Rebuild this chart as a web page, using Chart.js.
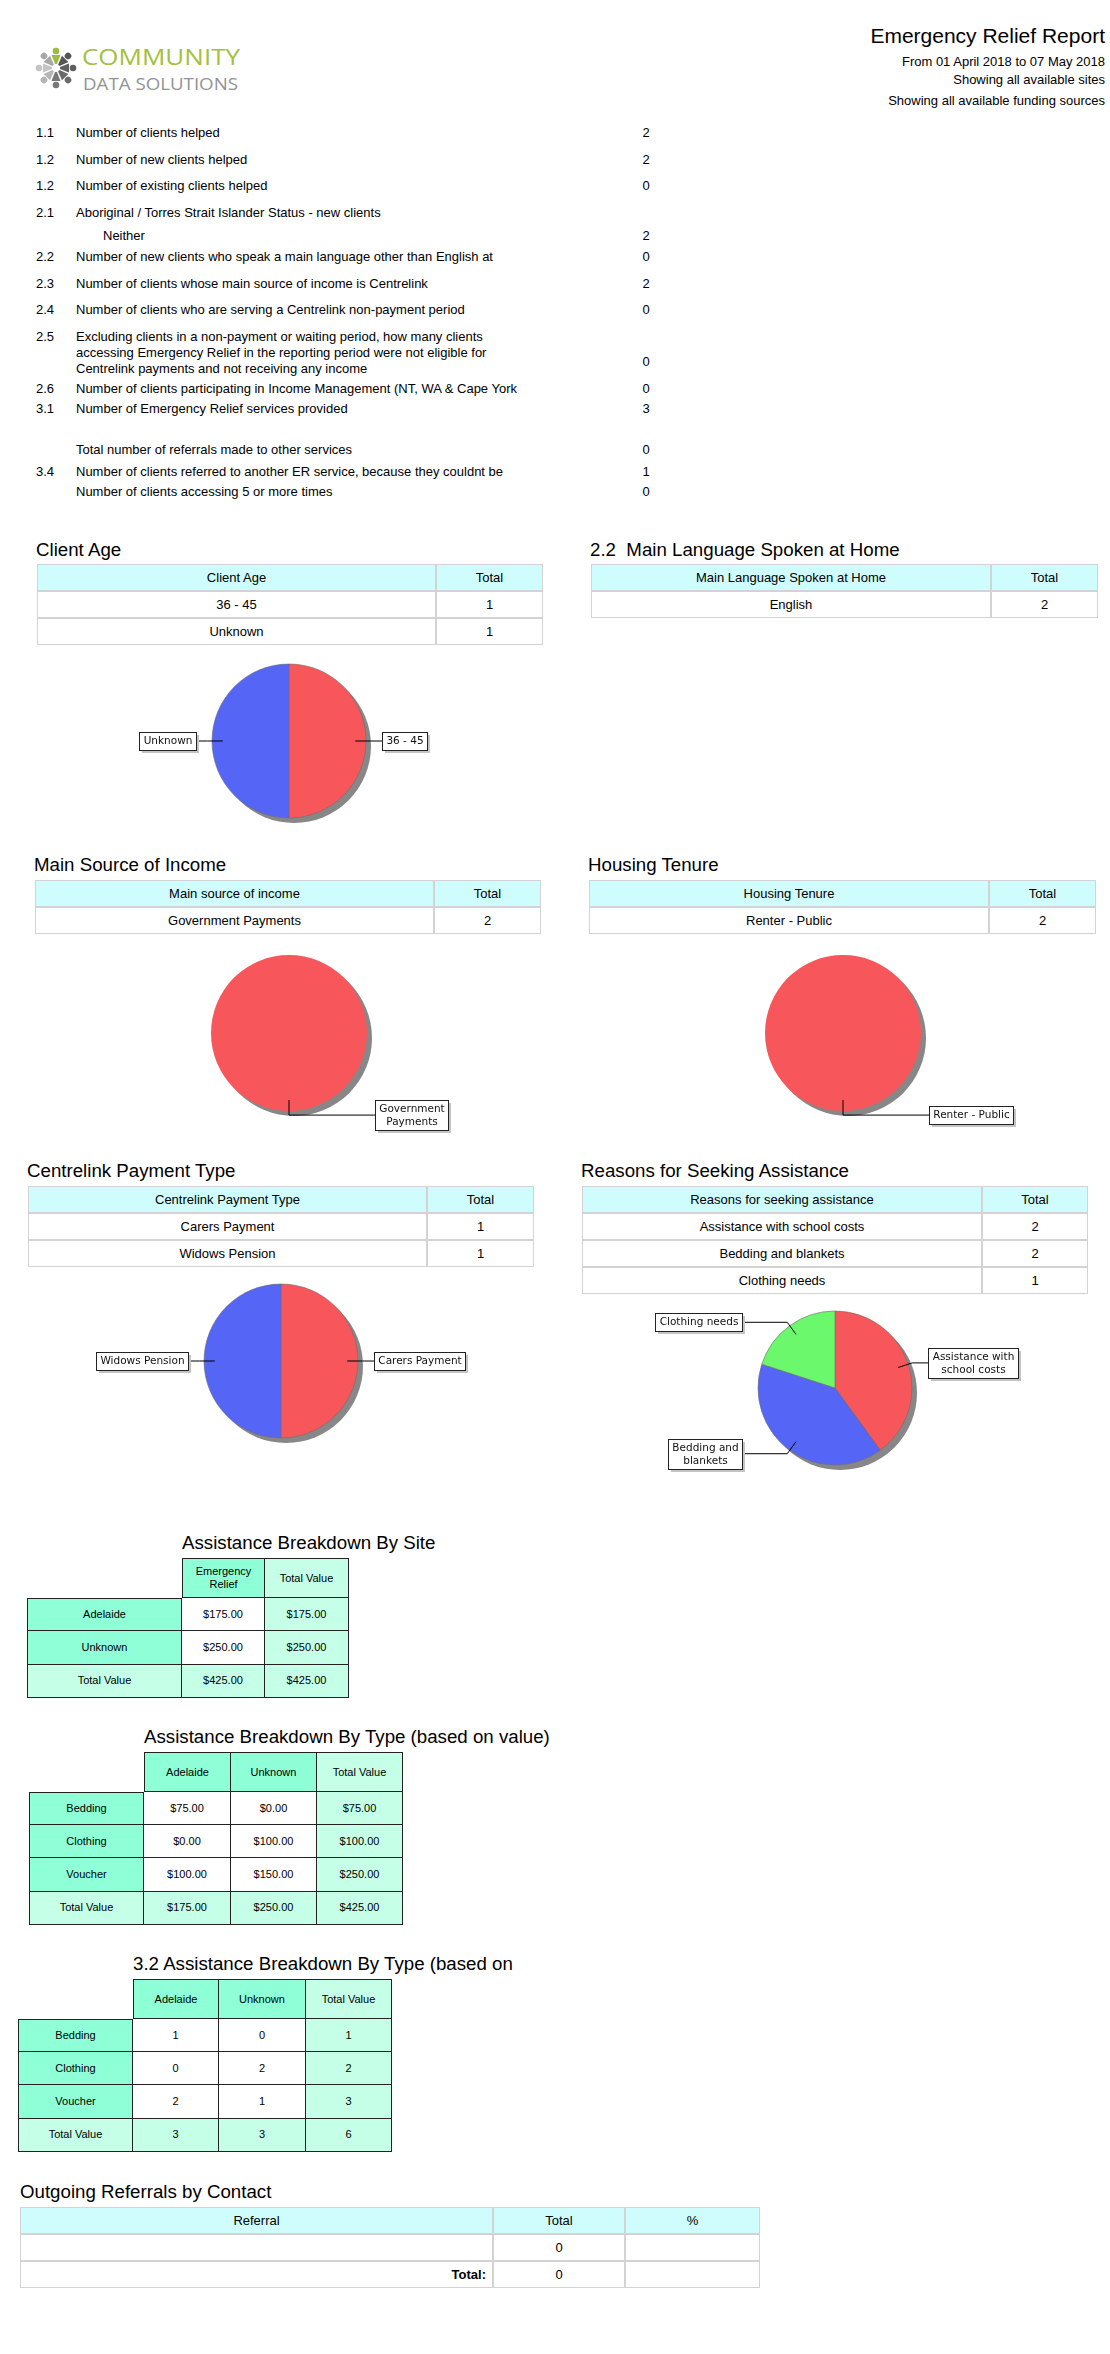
<!DOCTYPE html>
<html>
<head>
<meta charset="utf-8">
<title>Emergency Relief Report</title>
<script src="https://cdn.jsdelivr.net/npm/chart.js@4.4.1/dist/chart.umd.min.js"></script>
<style>
  body { margin: 0; background: #fff; font-family: "Liberation Sans", Arial, sans-serif; color: #000; }
  #page { position: relative; width: 1110px; height: 2354px; overflow: hidden; }
  .abs { position: absolute; white-space: nowrap; }
  .h1 { font-size: 21px; right: 5px; text-align: right; line-height: 24px; }
  .sub { font-size: 13px; right: 5px; text-align: right; line-height: 16px; }
  .stat { font-size: 13px; line-height: 16px; }
  .title { font-size: 18.7px; line-height: 22px; }
  .cell { position: absolute; box-sizing: border-box; text-align: center; overflow: hidden; }
  .cyan { border: 1px solid #d3d3d3; font-size: 13px; }
  .dark { border-right: 1px solid #222; border-bottom: 1px solid #222; font-size: 11px;
          display: flex; align-items: center; justify-content: center; line-height: 13px; }
  canvas { position: absolute; }
</style>
</head>
<body>
<div id="page"></div>

<script>
// ---------- data ----------
const statCodes = ['1.1', '1.2', '1.2', '2.1', '', '2.2', '2.3', '2.4', '2.5', '2.6', '3.1', '', '3.4', ''];
const statLabels = [
  'Number of clients helped',
  'Number of new clients helped',
  'Number of existing clients helped',
  'Aboriginal / Torres Strait Islander Status - new clients',
  'Neither',
  'Number of new clients who speak a main language other than English at',
  'Number of clients whose main source of income is Centrelink',
  'Number of clients who are serving a Centrelink non-payment period',
  'Excluding clients in a non-payment or waiting period, how many clients\naccessing Emergency Relief in the reporting period were not eligible for\nCentrelink payments and not receiving any income',
  'Number of clients participating in Income Management (NT, WA & Cape York',
  'Number of Emergency Relief services provided',
  'Total number of referrals made to other services',
  'Number of clients referred to another ER service, because they couldnt be',
  'Number of clients accessing 5 or more times'
];
const statValues = ['2', '2', '0', '', '2', '0', '2', '0', '0', '0', '3', '0', '1', '0'];

const ageLabels = ['36 - 45', 'Unknown'];
const ageTotals = [1, 1];
const languageLabels = ['English'];
const languageTotals = [2];
const incomeLabels = ['Government Payments'];
const incomeTotals = [2];
const housingLabels = ['Renter - Public'];
const housingTotals = [2];
const paymentLabels = ['Carers Payment', 'Widows Pension'];
const paymentTotals = [1, 1];
const reasonLabels = ['Assistance with school costs', 'Bedding and blankets', 'Clothing needs'];
const reasonTotals = [2, 2, 1];

const sites = ['Adelaide', 'Unknown'];
const siteEmergencyRelief = [175, 250];
const assistTypes = ['Bedding', 'Clothing', 'Voucher'];
const valueAdelaide = [75, 0, 100];
const valueUnknown = [0, 100, 150];
const countAdelaide = [1, 0, 2];
const countUnknown = [0, 2, 1];

const referralNames = [''];
const referralTotals = [0];

// ---------- layout ----------
const page = document.getElementById('page');
const statRowY = [133, 160, 186, 213, 236, 257, 284, 310, 337, 389, 409, 450, 472, 492];
const pieColors = ['#f7575b', '#5565f6', '#6cf86c'];

function add(html) {
  page.insertAdjacentHTML('beforeend', html);
}

function esc(s) {
  return String(s).replace(/&/g, '&amp;').replace(/</g, '&lt;');
}

// header
add(`<div class="abs h1" style="top:24px">Emergency Relief Report</div>`);
add(`<div class="abs sub" style="top:54px">From 01 April 2018 to 07 May 2018</div>`);
add(`<div class="abs sub" style="top:72px">Showing all available sites</div>`);
add(`<div class="abs sub" style="top:93px">Showing all available funding sources</div>`);

// logo
(function logo() {
  const cols = ['#9dbb3d', '#555', '#5f5f5f', '#6a6a6a', '#777', '#b5b5b5', '#c4c4c4', '#a8a8a8'];
  let figs = '';
  for (let k = 0; k < 8; k++) {
    const a = k * 45;
    figs += `<g transform="rotate(${a})" fill="${cols[k]}">
      <circle cx="0" cy="-17" r="3.3"/>
      <path d="M-4.5,-13 L4.5,-13 L1,-4 L-1,-4 Z"/>
    </g>`;
  }
  add(`<svg class="abs" style="left:30px;top:40px" width="220" height="56">
    <g transform="translate(26,28)">${figs}</g>
    <text x="52" y="25" font-family="Open Sans, sans-serif" font-size="22" fill="#a3c041"
      textLength="158" lengthAdjust="spacingAndGlyphs">COMMUNITY</text>
    <text x="53" y="50" font-family="Open Sans, sans-serif" font-size="17" fill="#939393"
      textLength="155" lengthAdjust="spacingAndGlyphs">DATA SOLUTIONS</text>
  </svg>`);
})();

// stats list
statLabels.forEach((label, i) => {
  const y = statRowY[i];
  const lines = label.split('\n');
  const indent = statCodes[i] === '' && i === 4 ? 103 : 76;
  if (statCodes[i]) add(`<div class="abs stat" style="left:36px;top:${y - 8}px">${statCodes[i]}</div>`);
  add(`<div class="abs stat" style="left:${indent}px;top:${y - 8}px">${lines.map(esc).join('<br>')}</div>`);
  const vy = y + (lines.length - 1) * 12.5;
  if (statValues[i] !== '') {
    add(`<div class="abs stat" style="left:626px;width:40px;text-align:center;top:${vy - 8}px">${statValues[i]}</div>`);
  }
});

// cyan header tables
function cyanTable(left, top, widths, rowH, header, rows, opts = {}) {
  const total = widths.reduce((a, b) => a + b, 0);
  let html = `<div class="abs" style="left:${left}px;top:${top}px;width:${total}px;height:${rowH * (rows.length + 1)}px;">`;
  [header, ...rows].forEach((row, r) => {
    let x = 0;
    row.forEach((txt, c) => {
      const bg = r === 0 ? '#cffdfd' : '#fff';
      let align = 'center', extra = '';
      if (opts.boldRight && r === rows.length && c === 0) {
        align = 'right'; extra = 'font-weight:bold;padding-right:6px;';
      }
      html += `<div class="cell cyan" style="left:${x}px;top:${r * rowH}px;width:${widths[c]}px;height:${rowH}px;line-height:${rowH - 2}px;background:${bg};text-align:${align};${extra}">${esc(txt)}</div>`;
      x += widths[c];
    });
  });
  add(html + '</div>');
}

function title(left, cy, text) {
  add(`<div class="abs title" style="left:${left}px;top:${cy - 11}px">${text}</div>`);
}

title(36, 550, 'Client Age');
cyanTable(37, 564, [399, 107], 27, ['Client Age', 'Total'], ageLabels.map((l, i) => [l, ageTotals[i]]));

title(590, 550, '2.2&nbsp;&nbsp;Main Language Spoken at Home');
cyanTable(591, 564, [400, 107], 27, ['Main Language Spoken at Home', 'Total'], languageLabels.map((l, i) => [l, languageTotals[i]]));

title(34, 865, 'Main Source of Income');
cyanTable(35, 880, [399, 107], 27, ['Main source of income', 'Total'], incomeLabels.map((l, i) => [l, incomeTotals[i]]));

title(588, 865, 'Housing Tenure');
cyanTable(589, 880, [400, 107], 27, ['Housing Tenure', 'Total'], housingLabels.map((l, i) => [l, housingTotals[i]]));

title(27, 1171, 'Centrelink Payment Type');
cyanTable(28, 1186, [399, 107], 27, ['Centrelink Payment Type', 'Total'], paymentLabels.map((l, i) => [l, paymentTotals[i]]));

title(581, 1171, 'Reasons for Seeking Assistance');
cyanTable(582, 1186, [400, 106], 27, ['Reasons for seeking assistance', 'Total'], reasonLabels.map((l, i) => [l, reasonTotals[i]]));

// dark bordered breakdown tables
const AQUA = '#8effd6', MINT = '#c5ffe8';

function darkTable(left, top, labelW, colW, headH, rowH, header, headerBg, rows) {
  // rows: [label, labelBg, [cells], [cellBgs]]
  const totalW = labelW + colW.reduce((a, b) => a + b, 0);
  let html = `<div class="abs" style="left:${left}px;top:${top}px;width:${totalW}px;">`;
  let x = labelW;
  header.forEach((h, c) => {
    const lft = c === 0 ? 'border-left:1px solid #222;' : '';
    html += `<div class="cell dark" style="left:${x}px;top:0;width:${colW[c]}px;height:${headH}px;background:${headerBg[c]};border-top:1px solid #222;${lft}white-space:normal;padding:0 8px;">${esc(h)}</div>`;
    x += colW[c];
  });
  let y = headH;
  rows.forEach((row, r) => {
    html += `<div class="cell dark" style="left:0;top:${y}px;width:${labelW}px;height:${rowH}px;background:${row[1]};border-left:1px solid #222;${r === 0 ? 'border-top:1px solid #222;' : ''}">${esc(row[0])}</div>`;
    let cx = labelW;
    row[2].forEach((v, c) => {
      html += `<div class="cell dark" style="left:${cx}px;top:${y}px;width:${colW[c]}px;height:${rowH}px;background:${row[3][c]};">${esc(v)}</div>`;
      cx += colW[c];
    });
    y += rowH;
  });
  add(html + '</div>');
}

const money = v => '$' + v.toFixed(2);
const sum = arr => arr.reduce((a, b) => a + b, 0);

title(182, 1543, 'Assistance Breakdown By Site');
darkTable(27, 1558, 155, [83, 84], 40, 33.3, ['Emergency Relief', 'Total Value'], [AQUA, MINT], [
  ...sites.map((s, i) => [s, AQUA, [money(siteEmergencyRelief[i]), money(siteEmergencyRelief[i])], ['#fff', MINT]]),
  ['Total Value', MINT, [money(sum(siteEmergencyRelief)), money(sum(siteEmergencyRelief))], [MINT, MINT]]
]);

title(144, 1737, 'Assistance Breakdown By Type (based on value)');
darkTable(29, 1752, 115, [87, 86, 86], 40, 33.2, sites.concat(['Total Value']), [AQUA, AQUA, MINT], [
  ...assistTypes.map((t, i) => [t, AQUA,
    [money(valueAdelaide[i]), money(valueUnknown[i]), money(valueAdelaide[i] + valueUnknown[i])], ['#fff', '#fff', MINT]]),
  ['Total Value', MINT, [money(sum(valueAdelaide)), money(sum(valueUnknown)), money(sum(valueAdelaide) + sum(valueUnknown))], [MINT, MINT, MINT]]
]);

title(133, 1964, '3.2 Assistance Breakdown By Type (based on');
darkTable(18, 1979, 115, [86, 87, 86], 40, 33.2, sites.concat(['Total Value']), [AQUA, AQUA, MINT], [
  ...assistTypes.map((t, i) => [t, AQUA,
    [countAdelaide[i], countUnknown[i], countAdelaide[i] + countUnknown[i]], ['#fff', '#fff', MINT]]),
  ['Total Value', MINT, [sum(countAdelaide), sum(countUnknown), sum(countAdelaide) + sum(countUnknown)], [MINT, MINT, MINT]]
]);

title(20, 2192, 'Outgoing Referrals by Contact');
cyanTable(20, 2207, [473, 132, 135], 27, ['Referral', 'Total', '%'], [
  ...referralNames.map((n, i) => [n, referralTotals[i], '']),
  ['Total:', sum(referralTotals), '']
], { boldRight: true });

// ---------- pie charts ----------
const pieShadow = {
  id: 'pieShadow',
  beforeDatasetsDraw(chart) {
    const arc = chart.getDatasetMeta(0).data[0];
    if (!arc) return;
    const { x, y, outerRadius } = arc.getProps(['x', 'y', 'outerRadius'], true);
    const ctx = chart.ctx;
    ctx.save();
    ctx.fillStyle = '#878787';
    ctx.beginPath();
    ctx.arc(x + 5, y + 5, outerRadius, 0, Math.PI * 2);
    ctx.fill();
    ctx.restore();
  }
};

function wrapLabel(text, max) {
  const words = text.split(' ');
  const lines = [];
  let cur = '';
  words.forEach(w => {
    const next = cur ? cur + ' ' + w : w;
    if (next.length > max && cur) { lines.push(cur); cur = w; }
    else cur = next;
  });
  if (cur) lines.push(cur);
  return lines;
}

const pieCallouts = {
  id: 'pieCallouts',
  afterDatasetsDraw(chart) {
    const ctx = chart.ctx;
    const meta = chart.getDatasetMeta(0);
    const labels = chart.data.labels;
    ctx.save();
    ctx.font = '10.5px "DejaVu Sans"';
    ctx.textAlign = 'center';
    ctx.textBaseline = 'middle';
    meta.data.forEach((arc, i) => {
      const { x, y, startAngle, endAngle, outerRadius: r } =
        arc.getProps(['x', 'y', 'startAngle', 'endAngle', 'outerRadius'], true);
      const mid = (startAngle + endAngle) / 2;
      const c = Math.cos(mid), s = Math.sin(mid);
      const ax = x + c * r * 0.86, ay = y + s * r * 0.86;
      const ex = ax + c * 15, ey = ay + s * 15;
      const side = c < -0.01 ? -1 : 1;
      const edge = Math.abs(c) < 0.1 ? x + side * (r + 8) : x + side * (r + 16);

      ctx.strokeStyle = '#000';
      ctx.lineWidth = 1;
      ctx.beginPath();
      ctx.moveTo(ax, ay);
      ctx.lineTo(ex, ey);
      ctx.lineTo(edge, ey);
      ctx.stroke();

      const lines = wrapLabel(labels[i], 15);
      const tw = Math.max(...lines.map(l => ctx.measureText(l).width));
      const w = Math.round(tw + 8), h = Math.round(lines.length * 12.5 + 5);
      const bx = Math.round(side > 0 ? edge : edge - w);
      const by = Math.round(ey - h / 2);
      ctx.fillStyle = '#c4c4c4';
      ctx.fillRect(bx + 3, by + 3, w, h);
      ctx.fillStyle = '#fff';
      ctx.fillRect(bx, by, w, h);
      ctx.strokeStyle = '#222';
      ctx.strokeRect(bx + 0.5, by + 0.5, w, h);
      ctx.fillStyle = '#111';
      lines.forEach((l, k) => {
        ctx.fillText(l, bx + w / 2 + 0.5, by + 3 + 12.5 * k + 6.5);
      });
    });
    ctx.restore();
  }
};

function makePie(cx, cy, radius, labels, values) {
  const canvas = document.createElement('canvas');
  canvas.width = 440;
  canvas.height = 240;
  canvas.style.left = (cx - 220) + 'px';
  canvas.style.top = (cy - 120) + 'px';
  page.appendChild(canvas);

  new Chart(canvas.getContext('2d'), {
    type: 'pie',
    data: {
      labels: labels,
      datasets: [{
        data: values,
        backgroundColor: pieColors.slice(0, values.length),
        borderColor: 'rgba(110,110,110,0.6)',
        borderWidth: values.length > 1 ? 1 : 0
      }]
    },
    options: {
      responsive: false,
      animation: false,
      radius: radius,
      layout: { padding: 0 },
      plugins: { legend: { display: false }, tooltip: { enabled: false } }
    },
    plugins: [pieShadow, pieCallouts]
  });
}

makePie(289, 741, 77, ageLabels, ageTotals);
makePie(289, 1033, 78, incomeLabels, incomeTotals);
makePie(843, 1033, 78, housingLabels, housingTotals);
makePie(281, 1361, 77, paymentLabels, paymentTotals);
makePie(835, 1388, 77, reasonLabels, reasonTotals);
</script>
</body>
</html>
